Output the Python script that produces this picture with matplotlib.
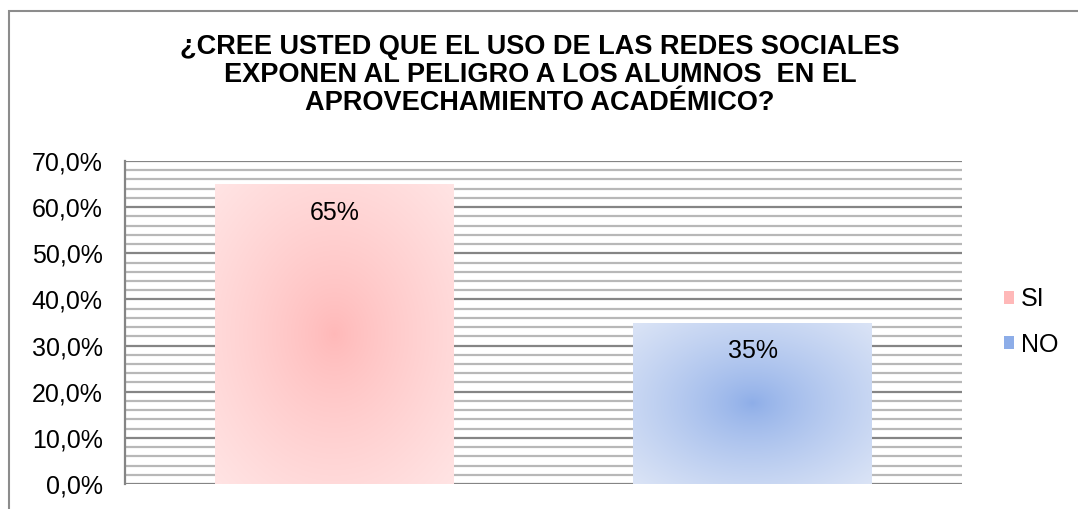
import numpy as np
import matplotlib
matplotlib.use("Agg")
import matplotlib.pyplot as plt
from matplotlib.colors import to_rgb
from matplotlib.patches import Rectangle

# data
categories = ["SI", "NO"]
values = [0.65, 0.35]
labels = ["65%", "35%"]
title = ("¿CREE USTED QUE EL USO DE LAS REDES SOCIALES\n"
         "EXPONEN AL PELIGRO A LOS ALUMNOS  EN EL\n"
         "APROVECHAMIENTO ACADÉMICO?")
# gradient colours: centre, edge
center_cols = ["#ffb8b8", "#8dade8"]
edge_cols = ["#ffe4e4", "#dbe4f6"]

plt.rcParams['font.family'] = ['Liberation Sans', 'DejaVu Sans']

fig = plt.figure(figsize=(10.78, 5.09), dpi=100)
ax = fig.add_axes([125 / 1078, 25 / 509, 837 / 1078, 323 / 509])

# outer chart frame
fig.patches.append(Rectangle((9 / 1078, -0.1), 1.2, 1 - 11 / 509 + 0.1,
                             transform=fig.transFigure, fill=False,
                             edgecolor="#8c8c8c", linewidth=1.5, zorder=0))

# gridlines
for v in np.arange(0, 0.701, 0.02):
    major = abs(round(v * 100) % 10) < 1e-6
    ax.axhline(v, color="#858585" if major else "#b8b8b8",
               linewidth=1.6, zorder=1)

x = np.arange(len(categories))
width = 0.571
bars = ax.bar(x, values, width=width, color=center_cols, zorder=2,
              edgecolor="none")

# radial gradient fill for each bar
ny, nx = 200, 200
yy, xx = np.mgrid[-1:1:ny * 1j, -1:1:nx * 1j]
r = np.clip(np.sqrt(xx ** 2 + yy ** 2) / np.sqrt(2), 0, 1)
for b, c0, c1 in zip(bars, center_cols, edge_cols):
    c0 = np.array(to_rgb(c0))
    c1 = np.array(to_rgb(c1))
    t = r[..., None] ** 0.8
    img = c0 * (1 - t) + c1 * t
    x0, w, h = b.get_x(), b.get_width(), b.get_height()
    im = ax.imshow(img, extent=[x0, x0 + w, 0, h], aspect="auto",
                   zorder=3, interpolation="bilinear")
    im.set_clip_path(b)

for b, lab in zip(bars, labels):
    ax.text(b.get_x() + b.get_width() / 2, b.get_height() - 0.062, lab,
            ha="center", va="center", fontsize=18, zorder=4)

ax.set_xlim(-0.5, 1.5)
ax.set_ylim(0, 0.70)
ax.set_yticks(np.arange(0, 0.701, 0.1))
ax.set_yticklabels([f"{v * 100:.1f}%".replace(".", ",")
                    for v in np.arange(0, 0.701, 0.1)], fontsize=18)
ax.tick_params(axis="y", length=0, pad=16)
ax.set_xticks([])
for s in ["top", "right", "bottom"]:
    ax.spines[s].set_visible(False)
ax.spines["left"].set_color("#858585")
ax.spines["left"].set_linewidth(1.6)

leg = fig.legend(bars, categories, loc="center left",
                 bbox_to_anchor=(981 / 1078, 1 - 322 / 509), frameon=False,
                 fontsize=18, handlelength=0.4, handleheight=0.4,
                 handletextpad=0.3, labelspacing=0.85)

fig.text(540 / 1078, 1 - 75 / 509, title, ha="center", va="center",
         fontsize=19.5, fontweight="bold", linespacing=1.08)

fig.savefig("out.png", dpi=100)
